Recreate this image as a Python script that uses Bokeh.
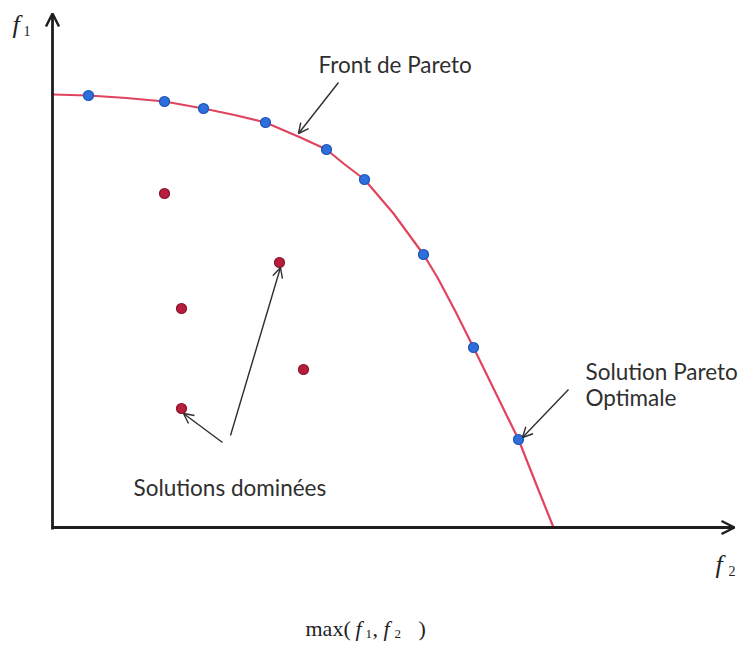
from bokeh.plotting import figure
from bokeh.models import Range1d, Arrow, OpenHead
from bokeh.core.properties import value
from bokeh.embed import file_html
from bokeh.resources import INLINE

# Pareto front curve (f2, f1) in diagram units, origin at the axes corner
front_f2 = [0, 36, 74, 112, 151, 182, 213, 248, 274, 291, 312, 341, 371, 385, 403, 421, 443, 466, 483, 501]
front_f1 = [433, 432, 429.5, 426, 419, 412.5, 405, 390, 378, 364, 348, 314, 273, 250, 216, 180, 135, 88, 45, 0]

# Pareto-optimal solutions lying on the front
opt_f2 = [36, 112, 151, 213, 274, 312, 371, 421, 466]
opt_f1 = [432, 426, 419, 405, 378, 348, 273, 180, 88]

# Dominated solutions
dom_f2 = [112, 227, 129, 251, 129]
dom_f1 = [334, 265, 219, 158, 119]

# Annotation arrows: (x_start, y_start, x_end, y_end)
note_arrows = [
    (286, 445, 246, 394),   # Front de Pareto
    (516, 138, 470, 90),    # Solution Pareto Optimale
    (178, 92, 228, 260),    # Solutions dominées -> upper point
    (170, 85, 131, 114),    # Solutions dominées -> lower point
]

p = figure(width=740, height=650, output_backend="svg", toolbar_location=None,
           x_range=Range1d(-52, 688), y_range=Range1d(-123, 527),
           min_border=0, min_border_left=0, min_border_right=0,
           min_border_top=0, min_border_bottom=0)
p.axis.visible = False
p.grid.visible = False
p.outline_line_color = None
p.background_fill_color = "white"
p.border_fill_color = "white"

axis_color = "#1e1e1e"
# Axes drawn as arrows
p.add_layout(Arrow(x_start=0, y_start=-2, x_end=0, y_end=514,
                   line_width=2.8, line_color=axis_color,
                   end=OpenHead(size=13, line_width=2.5, line_color=axis_color)))
p.add_layout(Arrow(x_start=-1, y_start=0, x_end=682, y_end=0,
                   line_width=2.8, line_color=axis_color,
                   end=OpenHead(size=13, line_width=2.5, line_color=axis_color)))

# Pareto front
p.line(front_f2, front_f1, line_color="#e0445e", line_width=2.2)

# Points
p.scatter(opt_f2, opt_f1, size=10, fill_color="#2f6fdc", line_color="#1f55b8", line_width=1.2)
p.scatter(dom_f2, dom_f1, size=10, fill_color="#b51f3c", line_color="#8c1530", line_width=1.2)

# Annotation arrows
for xs, ys, xe, ye in note_arrows:
    p.add_layout(Arrow(x_start=xs, y_start=ys, x_end=xe, y_end=ye,
                       line_width=1.4, line_color="#2e2e2e",
                       end=OpenHead(size=10, line_width=1.4, line_color="#2e2e2e")))

label_font = value("Lato")
label_color = "#2f2f2f"
p.text(x=[266, 533, 533, 81], y=[463, 156, 130, 40],
       text=["Front de Pareto", "Solution Pareto", "Optimale", "Solutions dominées"],
       text_font=label_font, text_font_size="22.5px", text_color=label_color,
       text_align="left", text_baseline="alphabetic")

serif = value("Liberation Serif")
ink = "#222222"
# Axis names
p.text(x=[-40, 663], y=[503, -37], text=["f", "f"], text_font=serif,
       text_font_style="italic", text_font_size="26px", text_color=ink,
       text_align="left", text_baseline="alphabetic")
p.text(x=[-29, 676], y=[497, -43], text=["1", "2"], text_font=serif,
       text_font_size="14px", text_color=ink,
       text_align="left", text_baseline="alphabetic")

# Objective caption: max(f1, f2)
p.text(x=[253, 320, 366], y=[-101, -101, -101], text=["max(", ",", ")"],
       text_font=serif, text_font_size="22px", text_color=ink,
       text_align="left", text_baseline="alphabetic")
p.text(x=[303, 331], y=[-101, -101], text=["f", "f"],
       text_font=serif, text_font_style="italic", text_font_size="22px",
       text_color=ink, text_align="left", text_baseline="alphabetic")
p.text(x=[313, 342], y=[-106, -106], text=["1", "2"],
       text_font=serif, text_font_size="13px", text_color=ink,
       text_align="left", text_baseline="alphabetic")

open("out.html", "w").write(file_html(p, INLINE))
